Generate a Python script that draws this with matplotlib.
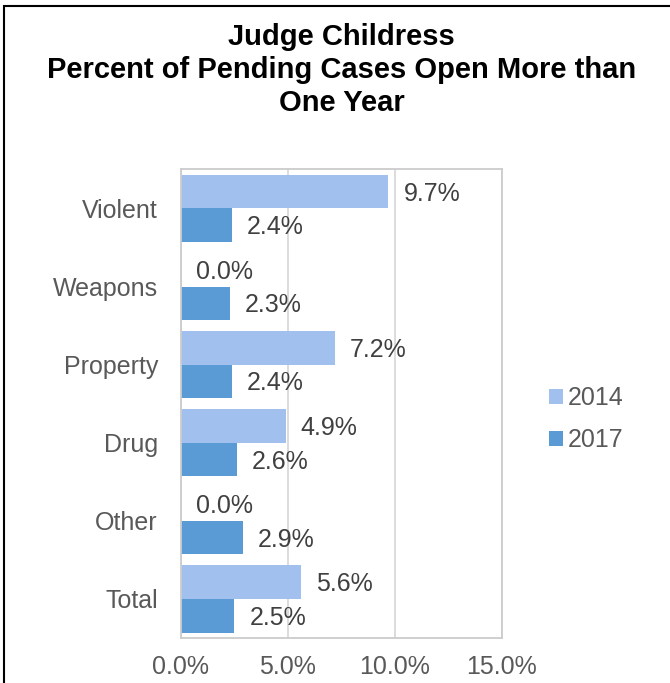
import matplotlib
matplotlib.use("Agg")
import matplotlib.pyplot as plt
from matplotlib.patches import Rectangle
import numpy as np

plt.rcParams['font.family'] = ['Liberation Sans', 'DejaVu Sans']

# dados
categorias = ["Violent", "Weapons", "Property", "Drug", "Other", "Total"]
anos = ["2014", "2017"]
valores_2014 = [9.7, 0.0, 7.2, 4.9, 0.0, 5.6]
valores_2017 = [2.4, 2.3, 2.4, 2.6, 2.9, 2.5]
x_ticks = [0, 5, 10, 15]
titulo = "Judge Childress\nPercent of Pending Cases Open More than\nOne Year"

cor_2014 = "#A2C0EE"
cor_2017 = "#5B9BD5"
cinza_grade = "#D9D9D9"

fig = plt.figure(figsize=(6.7, 6.83), dpi=100)
ax = fig.add_axes([0.270, 0.0659, 0.479, 0.686])

y = np.arange(len(categorias))
h = 0.43
b1 = ax.barh(y - h/2, valores_2014, height=h, color=cor_2014, label=anos[0])
b2 = ax.barh(y + h/2, valores_2017, height=h, color=cor_2017, label=anos[1])

# rotulos das barras
for barras in (b1, b2):
    for r in barras:
        v = r.get_width()
        ax.annotate("%.1f%%" % v, (v, r.get_y() + r.get_height()/2),
                    xytext=(15, -2), textcoords="offset pixels",
                    va="center", ha="left", fontsize=18, color="#404040")

ax.set_xlim(0, 15)
ax.set_ylim(len(categorias) - 0.5, -0.5)
ax.set_xticks(x_ticks)
ax.set_xticklabels(["%.1f%%" % t for t in x_ticks])
ax.set_yticks(y)
ax.set_yticklabels(categorias)
ax.tick_params(axis="both", length=0, labelsize=18, labelcolor="#595959")
ax.tick_params(axis="x", pad=12)
ax.tick_params(axis="y", pad=16.5)
ax.xaxis.grid(True, color=cinza_grade, lw=1.3)
ax.set_axisbelow(True)
for s in ax.spines.values():
    s.set_color("#CCCCCC")
    s.set_linewidth(1.3)

fig.legend(handles=[b1, b2], labels=anos, loc="center left",
           bbox_to_anchor=(0.786, 0.386), frameon=False, fontsize=18,
           labelcolor="#595959", handlelength=0.55, handleheight=0.55,
           handletextpad=0.2, labelspacing=0.72)

fig.text(0.51, 1 - 70/683, titulo, ha="center", va="center", fontsize=21,
         fontweight="bold", linespacing=1.21, color="black")

# moldura da figura
fig.patches.append(Rectangle((4/670, -0.1), 1.2, 1 - 6/683 + 0.1,
                             transform=fig.transFigure, fill=False,
                             edgecolor="black", lw=1.5))

fig.savefig("out.png", dpi=100)
